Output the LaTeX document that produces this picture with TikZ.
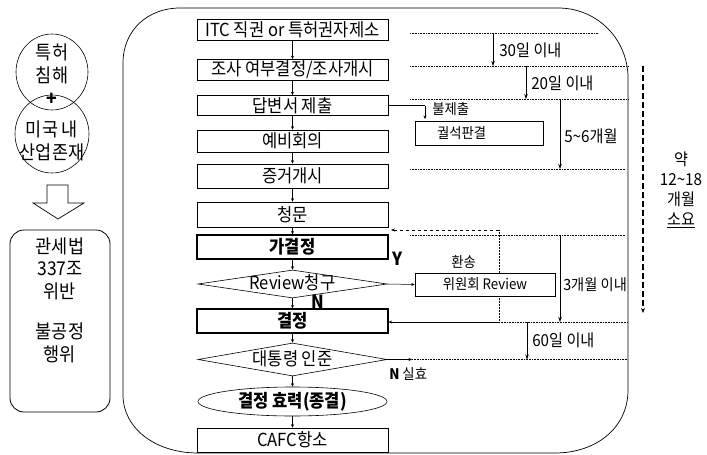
\documentclass[tikz,border=0pt]{standalone}
\usepackage{fontspec}
\setmainfont{Noto Sans CJK KR}[FakeStretch=0.92]
\usetikzlibrary{shapes.geometric,arrows.meta}
\newcommand{\fmain}{\fontsize{18}{20}\selectfont}
\newcommand{\flbl}{\fontsize{16.5}{19}\selectfont}
\newcommand{\fsmall}{\fontsize{14.5}{17}\selectfont}
\newcommand{\fleft}{\fontsize{19}{22.5}\selectfont}
\begin{document}
\begin{tikzpicture}[x=1pt,y=-1pt,
  line width=0.6pt,
  mbox/.style={draw, minimum width=191pt, inner sep=0pt, font=\fmain},
  thickbox/.style={mbox, line width=1.1pt, font=\fmain\bfseries},
  dia/.style={draw, diamond, inner sep=0pt, text height=12pt, text depth=1pt, font=\fmain},
  sbox/.style={draw, inner sep=0pt, font=\fsmall},
  flow/.style={-{Stealth[length=3.5pt,width=3pt]}, line width=0.5pt},
  guide/.style={densely dotted, line width=0.6pt},
  tarr/.style={-{Stealth[length=5pt,width=3.5pt]}, line width=0.6pt},
  lbl/.style={font=\flbl, anchor=west, inner sep=0pt},
  slbl/.style={font=\fsmall, anchor=west, inner sep=0pt},
  ltxt/.style={font=\fleft, align=center, inner sep=0pt}
]
\useasboundingbox (0,0) rectangle (707,455);

% big frame
\draw[line width=0.7pt] (123,63) .. controls (123,30) and (148,8) .. (180,8) -- (558,8)
  .. controls (598,8) and (628,40) .. (628,78) -- (628,390)
  .. controls (628,428) and (596,453) .. (555,453) -- (198,453)
  .. controls (155,453) and (123,428) .. (123,395) -- cycle;

% main flow
\node[mbox, minimum height=21pt] (b1) at (292.5,30) {ITC 직권 or 특허권자제소};
\node[mbox, minimum height=21pt] (b2) at (292.5,70) {조사 여부결정/조사개시};
\node[mbox, minimum height=20pt] (b3) at (292.5,105.5) {답변서 제출};
\node[mbox, minimum height=22pt] (b4) at (292.5,141) {예비회의};
\node[mbox, minimum height=24pt] (b5) at (292.5,176) {증거개시};
\node[mbox, minimum height=25pt] (b6) at (292.5,214.5) {청문};
\node[thickbox, minimum height=24pt] (b7) at (292.5,247) {가결정};
\node[dia, minimum width=189pt, minimum height=28pt, shape aspect=6.7] (d1) at (292.5,284) {Review청구};
\node[thickbox, minimum height=24pt] (b9) at (292.5,321) {결정};
\node[dia, minimum width=189pt, minimum height=33pt, shape aspect=5.7] (d2) at (292.5,359.5) {대통령 인준};
\node[draw, ellipse, minimum width=189pt, minimum height=29pt, inner sep=0pt, text height=12pt, text depth=1pt, font=\fmain\bfseries] (e1) at (292.5,401.5) {결정 효력(종결)};
\node[mbox, minimum height=24pt] (b10) at (292.5,440) {CAFC항소};

\draw[flow] (b1) -- (b2);
\draw[flow] (b2) -- (b3);
\draw[flow] (b3) -- (b4);
\draw[flow] (b4) -- (b5);
\draw[flow] (b5) -- (b6);
\draw[flow] (b6) -- (b7);
\draw[flow] (b7) -- (d1);
\draw[flow] (d1) -- (b9);
\draw[flow] (b9) -- (d2);
\draw[flow] (d2) -- (e1);
\draw[flow] (e1) -- (b10);

% side boxes
\node[sbox, minimum height=24pt, text width=84pt, inner xsep=22pt, align=left] (kb) at (479,133) {궐석판결};
\node[sbox, minimum width=140pt, minimum height=23pt] (rv) at (485,284.5) {위원회 Review};

% no-answer branch
\coordinate (na) at (425,105.5);
\coordinate (nb) at (425,119);
\draw[line width=0.5pt] (b3.east) -- (na);
\draw[flow] (na) -- (nb);
\node[slbl] (nl) at (432,109) {불제출};

% review branch
\draw[flow] (d1.east) -- (rv.west);
\node[font=\fmain\bfseries, inner sep=0pt] (yl) at (398,259) {Y};
\node[font=\fmain\bfseries, inner sep=0pt] (nl1) at (318,302) {N};
\node[slbl] (hs) at (451,262) {환송};
\coordinate (ru) at (499,230);
\coordinate (ruL) at (391,230);
\coordinate (rd) at (499,322);
\draw[densely dotted, line width=0.5pt] (rv.north -| ru) -- (ru);
\draw[dashed, -{Stealth[length=4pt,width=3pt]}, line width=0.5pt] (ru) -- (ruL);
\draw[densely dotted, line width=0.5pt] (rv.south -| rd) -- (rd);
\draw[flow] (rd) -- (b9.east |- rd);

% president branch
\coordinate (pa) at (412,359.5);
\draw[flow] (d2.east) -- (pa);
\node[font=\fsmall, anchor=west, inner sep=0pt] (sh) at (389,374) {\textbf{N} 실효};

% guide lines
\coordinate (g1a) at (410,33); \coordinate (g1b) at (598,33);
\coordinate (g2a) at (410,66); \coordinate (g2b) at (628,66);
\coordinate (g3a) at (410,99); \coordinate (g3b) at (628,99);
\coordinate (g4a) at (410,169); \coordinate (g4b) at (626,169);
\coordinate (g5a) at (410,235); \coordinate (g5b) at (626,235);
\coordinate (g6b) at (628,322);
\coordinate (g7b) at (628,359.5);
\draw[guide] (g1a) -- (g1b);
\draw[guide] (g2a) -- (g2b);
\draw[guide] (g3a) -- (g3b);
\draw[guide] (g4a) -- (g4b);
\draw[guide] (g5a) -- (g5b);
\draw[guide] (rd) -- (g6b);
\draw[guide] (pa) -- (g7b);

% duration arrows
\draw[tarr] (493,33) -- (493,66);
\node[lbl] (t1) at (499,50) {30일 이내};
\draw[tarr] (526,66) -- (526,99);
\node[lbl] (t2) at (531,83) {20일 이내};
\draw[tarr] (560,99) -- (560,169);
\node[lbl] (t3) at (564,136) {5\textasciitilde6개월};
\draw[tarr] (560,235) -- (560,322);
\node[lbl, font=\fontsize{15.5}{18}\selectfont] (t4) at (563,285) {3개월 이내};
\draw[tarr] (527,322) -- (527,359.5);
\node[lbl] (t5) at (532,340) {60일 이내};

% total
\draw[dashed, line width=1.2pt, dash pattern=on 6pt off 3pt, -{Stealth[length=5pt,width=4pt]}] (643,66) -- (643,313);
\node[font=\flbl, align=center, inner sep=0pt] (tot) at (681,190) {약\\[1pt] 12\textasciitilde18\\[1pt] 개월\\[1pt] \underline{소요}};

% left part
\node[draw, ellipse, minimum width=72pt, minimum height=76pt] (el1) at (52,72) {};
\node[draw, ellipse, minimum width=74pt, minimum height=78pt] (el2) at (52,134) {};
\node[ltxt] (el1t) at (52,64) {특허\\침해};
\node[ltxt] (el2t) at (52,141) {미국 내\\산업존재};
\node[font=\fleft\bfseries, inner sep=0pt] (pl) at (52,99) {+};
\draw[line width=0.7pt] (47,185) -- (68,185) -- (68,203) -- (84,203) -- (58,219) -- (33,203) -- (47,203) -- cycle;
\node[draw, rounded corners=14pt, minimum width=100pt, minimum height=182pt, line width=0.8pt] (law) at (60,321) {};
\node[ltxt] (lawt) at (60,300) {관세법\\337조\\위반\\[18pt]불공정\\행위};
\end{tikzpicture}
\end{document}
